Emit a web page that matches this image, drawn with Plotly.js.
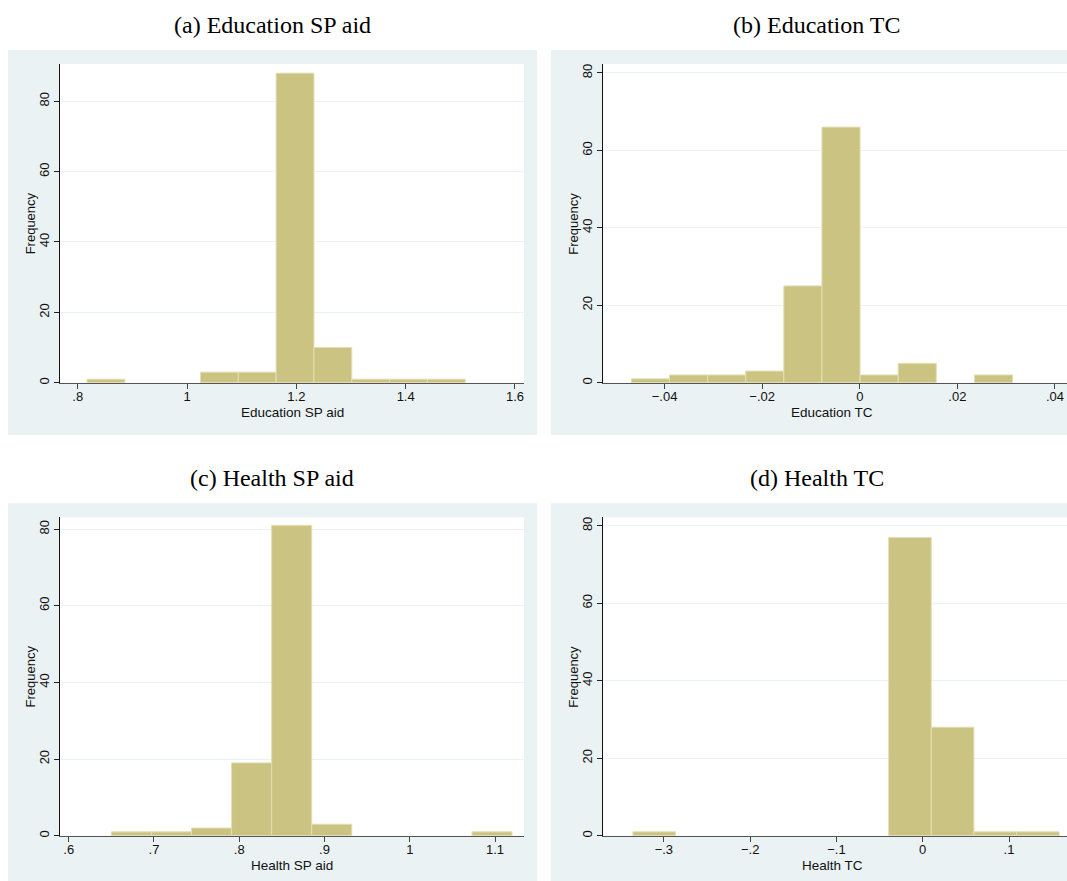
<!DOCTYPE html>
<html>
<head>
<meta charset="utf-8">
<script src="https://cdn.plot.ly/plotly-3.0.1.min.js"></script>
<style>html,body{margin:0;padding:0;background:#fff;}#chart{width:1067px;height:881px;}</style>
</head>
<body>
<div id="chart"></div>
<script>
// ---------- data ----------
const panelTitles = ["(a) Education SP aid", "(b) Education TC", "(c) Health SP aid", "(d) Health TC"];
const xTitles = ["Education SP aid", "Education TC", "Health SP aid", "Health TC"];
const yTitle = "Frequency";

// histogram bins: first bin edge, bin width, counts
const eduSPStart = 0.817, eduSPWidth = 0.0692;
const eduSPCounts = [1, 0, 0, 3, 3, 88, 10, 1, 1, 1];

const eduTCStart = -0.0468, eduTCWidth = 0.00781;
const eduTCCounts = [1, 2, 2, 3, 25, 66, 2, 5, 0, 2];

const hlthSPStart = 0.650, hlthSPWidth = 0.0470;
const hlthSPCounts = [1, 1, 2, 19, 81, 3, 0, 0, 0, 1];

const hlthTCStart = -0.3359, hlthTCWidth = 0.0494;
const hlthTCCounts = [1, 0, 0, 0, 0, 0, 77, 28, 1, 1];

// tick values / labels
const yTicks = [0, 20, 40, 60, 80];
const eduSPTicks = [0.8, 1, 1.2, 1.4, 1.6];
const eduSPTickText = [".8", "1", "1.2", "1.4", "1.6"];
const eduTCTicks = [-0.04, -0.02, 0, 0.02, 0.04];
const eduTCTickText = ["\u2212.04", "\u2212.02", "0", ".02", ".04"];
const hlthSPTicks = [0.6, 0.7, 0.8, 0.9, 1, 1.1];
const hlthSPTickText = [".6", ".7", ".8", ".9", "1", "1.1"];
const hlthTCTicks = [-0.3, -0.2, -0.1, 0, 0.1];
const hlthTCTickText = ["\u2212.3", "\u2212.2", "\u2212.1", "0", ".1"];

// ---------- layout helpers ----------
const W = 1067, H = 881;
const fx = x => x / W;
const fy = y => 1 - y / H;

const BAR = "#CBC382", BAR_EDGE = "#E4DEB4", PANEL_BG = "#EAF2F3";
const SANS = "Liberation Sans, Arial, sans-serif";
const SERIF = "Liberation Serif, Times New Roman, serif";

const panels = [
  {start: eduSPStart, width: eduSPWidth, counts: eduSPCounts, ticks: eduSPTicks, tickText: eduSPTickText,
   xr: [0.7676, 1.6165], yr: [0, 90.6], box: [8, 50, 537, 435], plot: [60, 64, 524, 382.7], cx: 272},
  {start: eduTCStart, width: eduTCWidth, counts: eduTCCounts, ticks: eduTCTicks, tickText: eduTCTickText,
   xr: [-0.05255, 0.04246], yr: [0, 82.3], box: [551, 50, 1090, 435], plot: [603.3, 64, 1067, 382.7], cx: 817},
  {start: hlthSPStart, width: hlthSPWidth, counts: hlthSPCounts, ticks: hlthSPTicks, tickText: hlthSPTickText,
   xr: [0.5898, 1.134], yr: [0, 83.1], box: [8, 503.3, 537, 900], plot: [60, 517.3, 524, 835.7], cx: 272},
  {start: hlthTCStart, width: hlthTCWidth, counts: hlthTCCounts, ticks: hlthTCTicks, tickText: hlthTCTickText,
   xr: [-0.3702, 0.1672], yr: [0, 82.2], box: [551, 503.3, 1090, 900], plot: [603.3, 517.3, 1067, 835.7], cx: 817}
];

const data = [];
const layout = {
  width: W, height: H,
  margin: {l: 0, r: 0, t: 0, b: 0},
  paper_bgcolor: "#ffffff",
  plot_bgcolor: "rgba(0,0,0,0)",
  showlegend: false,
  bargap: 0,
  shapes: [],
  annotations: []
};

panels.forEach((p, i) => {
  const n = i + 1;
  const xa = n === 1 ? "xaxis" : "xaxis" + n;
  const ya = n === 1 ? "yaxis" : "yaxis" + n;
  const xref = n === 1 ? "x" : "x" + n;
  const yref = n === 1 ? "y" : "y" + n;

  const centers = p.counts.map((c, k) => p.start + (k + 0.5) * p.width);
  data.push({
    type: "bar",
    x: centers,
    y: p.counts,
    width: p.counts.map(() => p.width),
    xaxis: xref, yaxis: yref,
    marker: {color: BAR, line: {color: BAR_EDGE, width: p.counts.map(c => c > 0 ? 1 : 0)}},
    hoverinfo: "x+y"
  });

  const [px0, py0, px1, py1] = p.plot;
  layout[xa] = {
    domain: [fx(px0), fx(px1)],
    anchor: yref,
    range: p.xr,
    tickvals: p.ticks, ticktext: p.tickText,
    ticks: "outside", ticklen: 5, tickwidth: 1, tickcolor: "#444",
    ticklabelstandoff: -3,
    showline: true, linecolor: "#555", linewidth: 1,
    showgrid: false, zeroline: false,
    tickfont: {family: SANS, size: 13, color: "#111"},
    fixedrange: true
  };
  layout[ya] = {
    domain: [fy(py1), fy(py0)],
    anchor: xref,
    range: p.yr,
    tickvals: yTicks,
    tickangle: -90,
    ticks: "outside", ticklen: 5, tickwidth: 1, tickcolor: "#222",
    showline: true, linecolor: "#111", linewidth: 1,
    showgrid: true, gridcolor: PANEL_BG, gridwidth: 1,
    zeroline: false,
    tickfont: {family: SANS, size: 13, color: "#111"},
    fixedrange: true
  };

  const [bx0, by0, bx1, by1] = p.box;
  layout.shapes.push({type: "rect", xref: "paper", yref: "paper", layer: "below",
    x0: fx(bx0), x1: fx(bx1), y0: fy(by1), y1: fy(by0),
    fillcolor: PANEL_BG, line: {width: 0}});
  layout.shapes.push({type: "rect", xref: "paper", yref: "paper", layer: "below",
    x0: fx(px0), x1: fx(px1), y0: fy(py1), y1: fy(py0),
    fillcolor: "#ffffff", line: {width: 0}});

  // panel title
  layout.annotations.push({text: panelTitles[i], xref: "paper", yref: "paper",
    x: fx(p.cx), y: fy(by0 - 25), xanchor: "center", yanchor: "middle", showarrow: false,
    font: {family: SERIF, size: 24, color: "#000"}});
  // x axis title
  layout.annotations.push({text: xTitles[i], xref: "paper", yref: "paper",
    x: fx((px0 + px1) / 2 + (i % 2 === 1 ? -3 : 0)), y: fy(py1 + 29.5), xanchor: "center", yanchor: "middle", showarrow: false,
    font: {family: SANS, size: 13.5, color: "#111"}});
  // y axis title
  layout.annotations.push({text: yTitle, xref: "paper", yref: "paper",
    x: fx(px0 - 30), y: fy((py0 + py1) / 2), xanchor: "center", yanchor: "middle", showarrow: false,
    textangle: -90,
    font: {family: SANS, size: 13, color: "#111"}});
});

Plotly.newPlot("chart", data, layout, {staticPlot: true, displayModeBar: false});
</script>
</body>
</html>
